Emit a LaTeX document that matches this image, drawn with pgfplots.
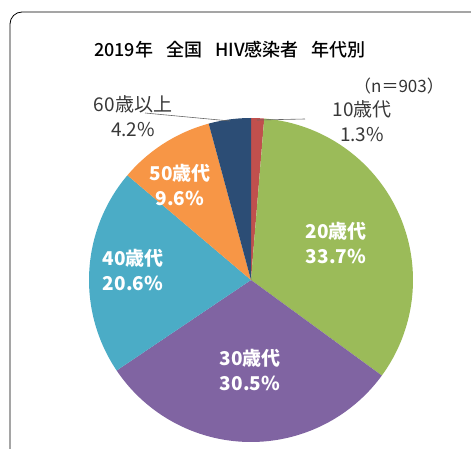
\documentclass[border=0pt]{standalone}
\usepackage{pgfplots}
\pgfplotsset{compat=1.18}
\usepackage{fontspec}
\setmainfont{Noto Sans CJK JP}
\newfontfamily\titlefont{Noto Sans CJK JP Medium}
\definecolor{cRed}{HTML}{C0504D}
\definecolor{cGreen}{HTML}{9BBB59}
\definecolor{cPurple}{HTML}{8064A2}
\definecolor{cTeal}{HTML}{4BACC6}
\definecolor{cOrange}{HTML}{F79646}
\definecolor{cNavy}{HTML}{2C4D75}
% shares (%) clockwise from 12 o'clock
\def\pA{1.3}\def\pB{33.7}\def\pC{30.5}\def\pD{20.6}\def\pE{9.6}\def\pF{4.2}
\pgfmathsetmacro{\tot}{\pA+\pB+\pC+\pD+\pE+\pF}
\pgfmathsetmacro{\aA}{90}
\pgfmathsetmacro{\aB}{\aA-360*\pA/\tot}
\pgfmathsetmacro{\aC}{\aB-360*\pB/\tot}
\pgfmathsetmacro{\aD}{\aC-360*\pC/\tot}
\pgfmathsetmacro{\aE}{\aD-360*\pD/\tot}
\pgfmathsetmacro{\aF}{\aE-360*\pE/\tot}
\pgfmathsetmacro{\aG}{\aF-360*\pF/\tot}
\def\cx{251}\def\cy{168}\def\rr{162}
\begin{document}
\begin{tikzpicture}
\begin{axis}[width=471pt,height=448pt,scale only axis,hide axis,
  xmin=0,xmax=471,ymin=0,ymax=448,clip=true]
\draw[black,line width=0.8pt,rounded corners=12pt] (axis cs:10,-20) -- (axis cs:10,436) -- (axis cs:490,436);
\addplot[fill=cRed,draw=none,domain=\aB:\aA,samples=20,variable=\t] ({\cx+\rr*cos(\t)},{\cy+\rr*sin(\t)}) -- (axis cs:\cx,\cy) -- cycle;
\addplot[fill=cGreen,draw=none,domain=\aC:\aB,samples=80,variable=\t] ({\cx+\rr*cos(\t)},{\cy+\rr*sin(\t)}) -- (axis cs:\cx,\cy) -- cycle;
\addplot[fill=cPurple,draw=none,domain=\aD:\aC,samples=80,variable=\t] ({\cx+\rr*cos(\t)},{\cy+\rr*sin(\t)}) -- (axis cs:\cx,\cy) -- cycle;
\addplot[fill=cTeal,draw=none,domain=\aE:\aD,samples=60,variable=\t] ({\cx+\rr*cos(\t)},{\cy+\rr*sin(\t)}) -- (axis cs:\cx,\cy) -- cycle;
\addplot[fill=cOrange,draw=none,domain=\aF:\aE,samples=30,variable=\t] ({\cx+\rr*cos(\t)},{\cy+\rr*sin(\t)}) -- (axis cs:\cx,\cy) -- cycle;
\addplot[fill=cNavy,draw=none,domain=\aG:\aF,samples=20,variable=\t] ({\cx+\rr*cos(\t)},{\cy+\rr*sin(\t)}) -- (axis cs:\cx,\cy) -- cycle;
% leader lines
\draw[gray!80!black,line width=0.6pt] (axis cs:145,335) -- (axis cs:230,327);
\draw[gray!80!black,line width=0.6pt] (axis cs:257,328) -- (axis cs:305,329);
% texts
\node[font=\titlefont\fontsize{18}{20}\selectfont] at (axis cs:230,398) {2019年\hspace{13pt}全国\hspace{13pt}HIV感染者\hspace{13pt}年代別};
\node[font=\fontsize{17}{19}\selectfont,text=black!80] at (axis cs:399,362) {（n＝903）};
\node[font=\fontsize{19}{25}\selectfont,text=black!78,align=center] at (axis cs:133,332) {60歳以上\\4.2\%};
\node[font=\fontsize{19}{25}\selectfont,text=black!78,align=center] at (axis cs:362,326.5) {10歳代\\1.3\%};
\node[font=\bfseries\fontsize{19}{25}\selectfont,text=white,align=center] at (axis cs:336,205.5) {20歳代\\33.7\%};
\node[font=\bfseries\fontsize{19}{25}\selectfont,text=white,align=center] at (axis cs:250,78) {30歳代\\30.5\%};
\node[font=\bfseries\fontsize{19}{25}\selectfont,text=white,align=center] at (axis cs:133,178.5) {40歳代\\20.6\%};
\node[font=\bfseries\fontsize{19}{25}\selectfont,text=white,align=center] at (axis cs:180,263) {50歳代\\9.6\%};
\path (axis cs:0,0) rectangle (axis cs:471,448);
\end{axis}
\end{tikzpicture}
\end{document}
